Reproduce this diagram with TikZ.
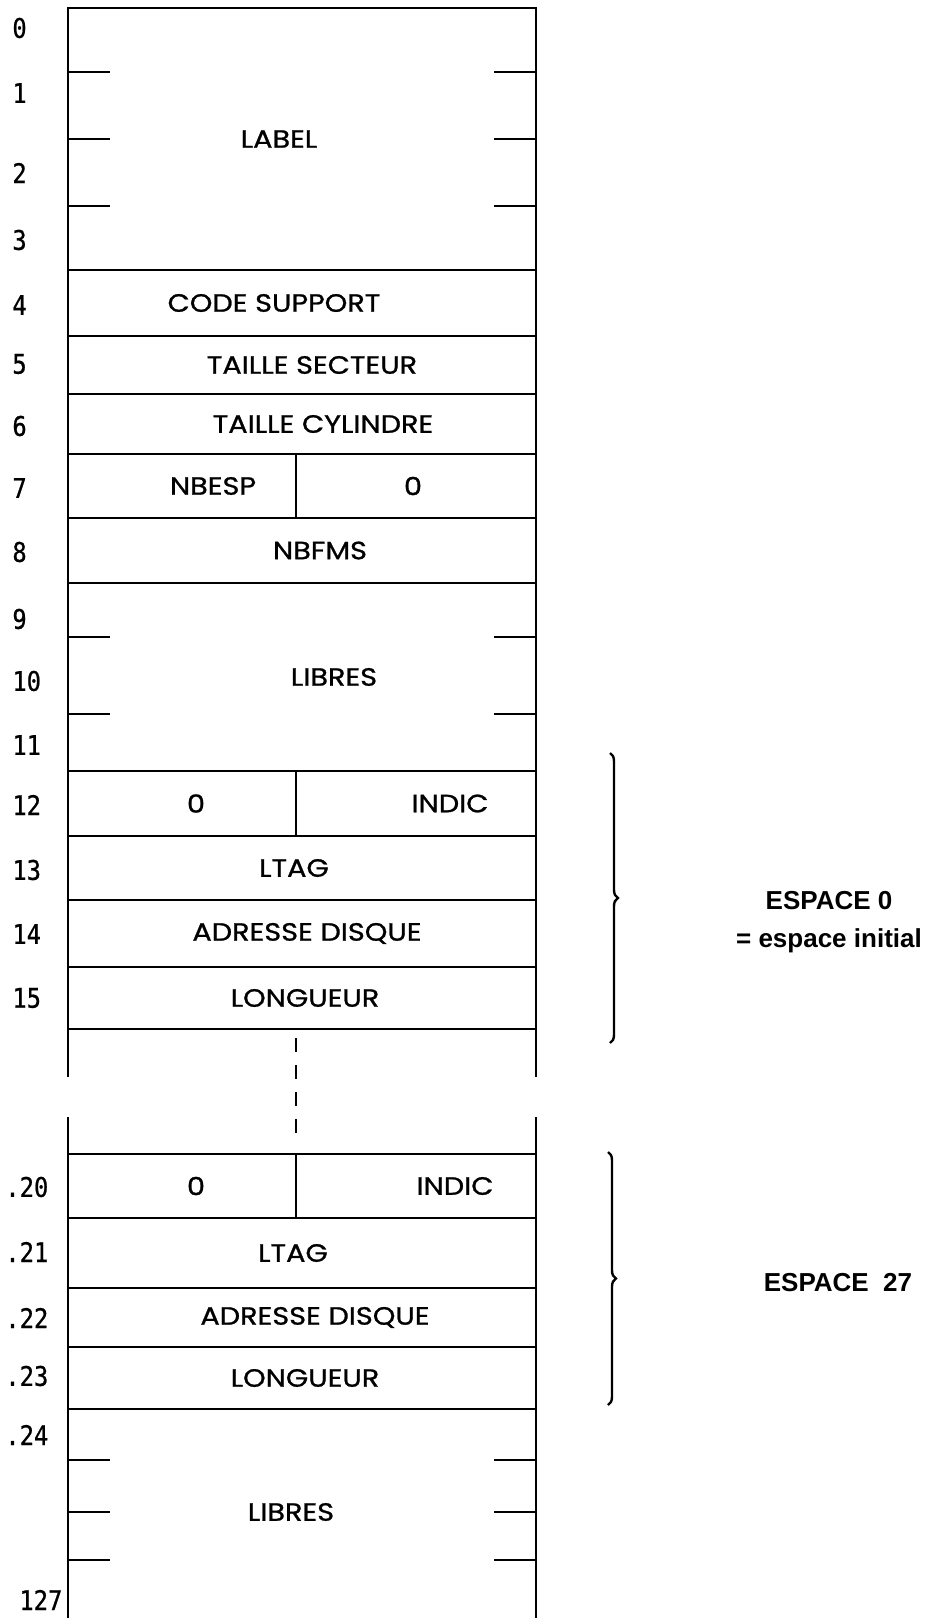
\documentclass[tikz,border=0pt]{standalone}
\usepackage{fontspec}
\newfontfamily\cellfont{Poppins}[FakeStretch=1.15, FakeBold=1]
\newfontfamily\numfont{DejaVu Sans Mono}[FakeStretch=0.88, FakeBold=0.8]
\newfontfamily\espfont{Liberation Sans}
\usetikzlibrary{positioning,decorations.pathreplacing}

\begin{document}
\begin{tikzpicture}[
    x=0.5pt, y=-0.5pt,
    line width=1.4pt,
    txt/.style={inner sep=0pt, font=\cellfont\fontsize{12.5}{14}\selectfont},
    cell/.style={txt, draw, minimum width=234pt, outer sep=0pt},
    lcell/.style={cell, minimum width=114pt},
    rcell/.style={cell, minimum width=120pt},
    pushr/.style={execute at begin node={\hspace*{#1}}},
    pushl/.style={execute at end node={\hspace*{#1}}},
    num/.style={anchor=west, inner sep=0pt, font=\numfont\fontsize{13.5}{15}\selectfont},
    espace/.style={align=center, font=\espfont\bfseries\fontsize{13}{19}\selectfont},
    brc/.style={decorate, decoration={brace, amplitude=4pt}, line width=1.2pt},
    gap/.style={dash pattern=on 7pt off 6.5pt, dash phase=9pt, line width=1.1pt},
]
\useasboundingbox (0,0) rectangle (925,1618);

% Header block
\node[cell, minimum height=131pt, pushl=23pt, anchor=north west] (label) at (68,8) {LABEL};
\node[cell, minimum height=33pt, pushl=28pt, below=0pt of label] (code) {CODE SUPPORT};
\node[cell, minimum height=29pt, pushr=10pt, below=0pt of code] (secteur) {TAILLE SECTEUR};
\node[cell, minimum height=30pt, pushr=21pt, below=0pt of secteur] (cylindre) {TAILLE CYLINDRE};
\node[lcell, minimum height=32pt, pushr=31pt, anchor=north west] (nbesp) at (cylindre.south west) {NBESP};
\node[rcell, minimum height=32pt, pushl=3pt, right=0pt of nbesp] (nbesp0) {0};
\node[cell, minimum height=32.5pt, pushr=18pt, anchor=north west] (nbfms) at (nbesp.south west) {NBFMS};
\node[cell, minimum height=94pt, pushr=32pt, below=0pt of nbfms] (libres) {LIBRES};

% Espace 0
\node[lcell, minimum height=32.5pt, pushr=14pt, anchor=north west] (zero12) at (libres.south west) {0};
\node[rcell, minimum height=32.5pt, pushr=34pt, right=0pt of zero12] (indic12) {INDIC};
\node[cell, minimum height=32pt, pushl=8pt, anchor=north west] (ltag13) at (zero12.south west) {LTAG};
\node[cell, minimum height=33.5pt, pushr=5pt, below=0pt of ltag13] (adr14) {ADRESSE DISQUE};
\node[cell, minimum height=31pt, pushr=3pt, below=0pt of adr14] (long15) {LONGUEUR};

% Espace 27
\node[lcell, minimum height=32pt, pushr=14pt, anchor=north west] (zero20) at (68,1154) {0};
\node[rcell, minimum height=32pt, pushr=39pt, right=0pt of zero20] (indic20) {INDIC};
\node[cell, minimum height=35pt, pushl=9pt, anchor=north west] (ltag21) at (zero20.south west) {LTAG};
\node[cell, minimum height=29.5pt, pushr=13pt, below=0pt of ltag21] (adr22) {ADRESSE DISQUE};
\node[cell, minimum height=31pt, pushr=3pt, below=0pt of adr22] (long23) {LONGUEUR};
\node[txt] (libres2) at (291,1512) {LIBRES};

% Open sides
\draw (long15.south west) -- ++(0,48) (long15.south east) -- ++(0,48);
\draw (zero20.north west) -- ++(0,-37) (indic20.north east) -- ++(0,-37);
\draw (long23.south west) -- ++(0,215) (long23.south east) -- ++(0,215);
\draw[gap, shorten >=8.5pt] (zero12.east |- long15.south) -- (zero20.north east);

% Ticks
\foreach \y in {72,139,206,637,714,1460,1512,1560}
  \draw (68,\y) -- ++(42,0) (536,\y) -- ++(-42,0);

% Word numbers
\foreach \n/\y in {0/28,1/93,2/173,3/240,4/305,5/364,6/426,7/488,8/552,9/619,10/681,11/745,12/805,13/870,14/934,15/998}
  \node[num] (n\n) at (11,\y) {\n};
\foreach \n/\y in {20/1187,21/1252,22/1318,23/1376,24/1435}
  \node[num] (n\n) at (4,\y) {.\n};
\node[num] (n127) at (18,1600) {127};

% Braces
\draw[brc] (610,753) -- (610,1043);
\node[espace] (esp0) at (829,922) {ESPACE 0\\= espace initial};
\draw[brc] (608,1152) -- (608,1405);
\node[espace] (esp27) at (838,1283) {ESPACE~~27};

\end{tikzpicture}
\end{document}
